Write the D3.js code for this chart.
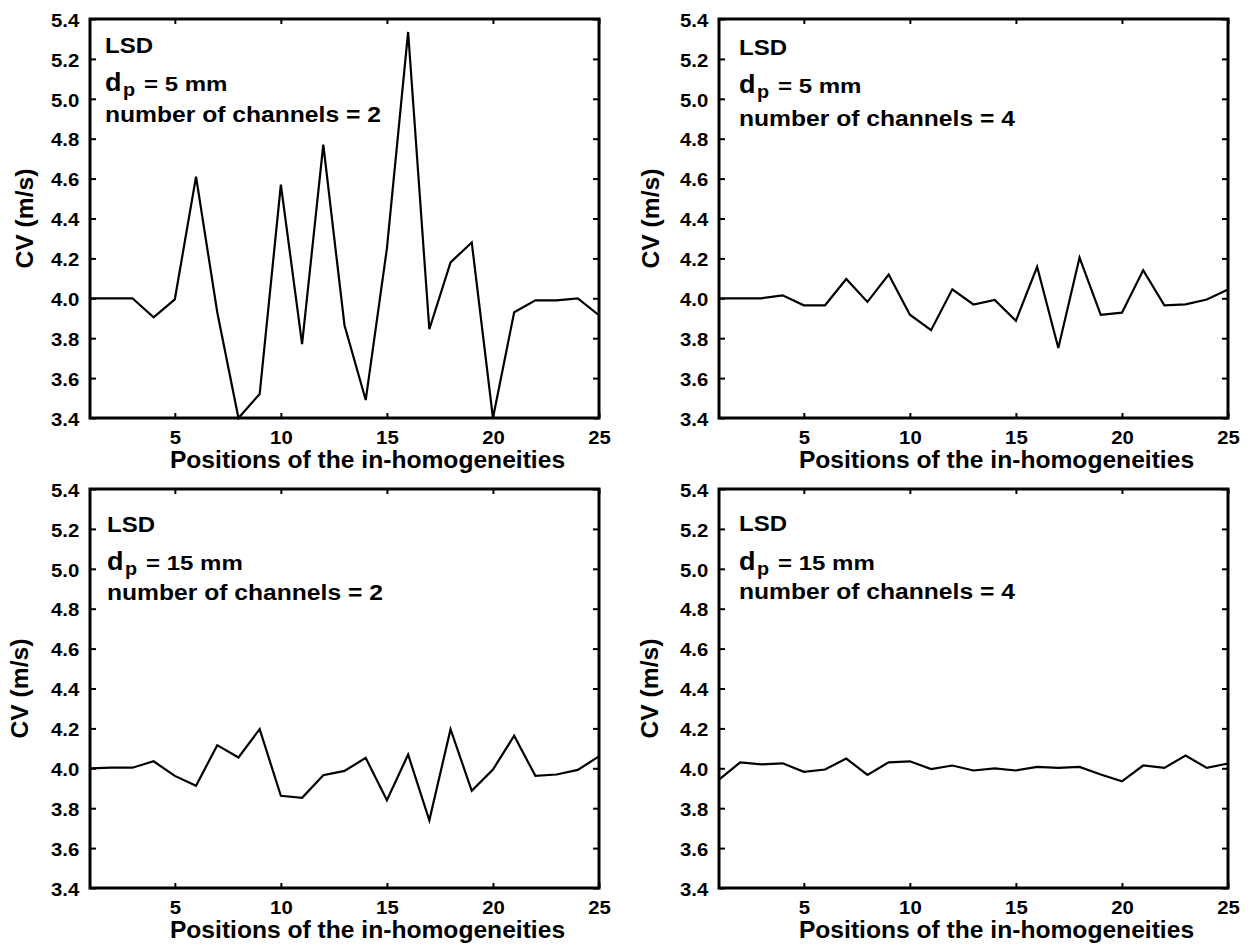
<!DOCTYPE html>
<html>
<head>
<meta charset="utf-8">
<script src="https://cdn.jsdelivr.net/npm/d3@7"></script>
<style>
  body { margin: 0; background: #fff; }
  svg text { font-family: "Liberation Sans", Arial, sans-serif; font-weight: bold; fill: #000; }
</style>
</head>
<body>
<div id="chart"></div>
<script>
// positions of the in-homogeneities (x)
var positions = [1, 2, 3, 4, 5, 6, 7, 8, 9, 10, 11, 12, 13, 14, 15, 16, 17, 18, 19, 20, 21, 22, 23, 24, 25];

// CV (m/s)
var cv_5mm_2ch  = [4.00, 4.00, 4.00, 3.905, 3.995, 4.61, 3.93, 3.40, 3.52, 4.57, 3.77, 4.77, 3.865, 3.49, 4.25, 5.335, 3.845, 4.18, 4.28, 3.40, 3.93, 3.99, 3.99, 4.00, 3.915];
var cv_5mm_4ch  = [4.00, 4.00, 4.00, 4.015, 3.965, 3.965, 4.097, 3.982, 4.119, 3.918, 3.84, 4.045, 3.969, 3.992, 3.887, 4.158, 3.751, 4.204, 3.917, 3.928, 4.141, 3.965, 3.97, 3.994, 4.044];
var cv_15mm_2ch = [4.00, 4.003, 4.003, 4.035, 3.962, 3.912, 4.116, 4.054, 4.196, 3.862, 3.852, 3.965, 3.987, 4.052, 3.84, 4.069, 3.739, 4.196, 3.887, 3.994, 4.163, 3.962, 3.969, 3.992, 4.06];
var cv_15mm_4ch = [3.943, 4.03, 4.02, 4.025, 3.982, 3.994, 4.049, 3.967, 4.03, 4.035, 3.996, 4.014, 3.989, 4.00, 3.989, 4.007, 4.002, 4.007, 3.969, 3.935, 4.014, 4.002, 4.064, 4.002, 4.024];

// tick values
var xTicks = [5, 10, 15, 20, 25];
var yTicks = [3.4, 3.6, 3.8, 4.0, 4.2, 4.4, 4.6, 4.8, 5.0, 5.2, 5.4];

var xLabel = "Positions of the in-homogeneities";
var yLabel = "CV (m/s)";

var panels = [
    {series: cv_5mm_2ch,  dp: "5",  ch: "2", left: 90,  top: 19,  ylab: 33,  ax: 105, lsd: 53,  dline: 91,  nline: 122},
    {series: cv_5mm_4ch,  dp: "5",  ch: "4", left: 719, top: 19,  ylab: 659, ax: 739, lsd: 55,  dline: 93,  nline: 126},
    {series: cv_15mm_2ch, dp: "15", ch: "2", left: 90,  top: 489, ylab: 28,  ax: 107, lsd: 532, dline: 570, nline: 600},
    {series: cv_15mm_4ch, dp: "15", ch: "4", left: 719, top: 489, ylab: 658, ax: 739, lsd: 531, dline: 570, nline: 599}
];

var width = 509, height = 399;

var svg = d3.select("#chart")
    .append("svg")
    .attr("width", 1251)
    .attr("height", 948);

// widen glyphs a bit, the original text is drawn wider than Arial
function stretch(sel, k) {
    sel.each(function() {
        var n = this.getComputedTextLength();
        d3.select(this).attr("textLength", n * k).attr("lengthAdjust", "spacingAndGlyphs");
    });
}

panels.forEach(function(p) {
    var x = d3.scaleLinear().domain([1, 25]).range([0, width]);
    var y = d3.scaleLinear().domain([3.4, 5.4]).range([height, 0]);

    var g = svg.append("g")
        .attr("transform", "translate(" + p.left + "," + p.top + ")");

    // bottom axis with labels, ticks inward
    var gx = g.append("g")
        .attr("transform", "translate(0," + height + ")")
        .call(d3.axisBottom(x).tickValues(xTicks).tickSize(-5).tickSizeOuter(0).tickPadding(13).tickFormat(d3.format("d")));
    // left axis with labels
    var gy = g.append("g")
        .call(d3.axisLeft(y).tickValues(yTicks).tickSize(-6).tickSizeOuter(0).tickPadding(10.7).tickFormat(d3.format(".1f")));
    // mirrored ticks on top and right
    var gt = g.append("g")
        .call(d3.axisTop(x).tickValues(xTicks).tickSize(-5).tickSizeOuter(0).tickFormat(""));
    var gr = g.append("g")
        .attr("transform", "translate(" + width + ",0)")
        .call(d3.axisRight(y).tickValues(yTicks).tickSize(-6).tickSizeOuter(0).tickFormat(""));

    [gx, gy, gt, gr].forEach(function(a) {
        a.select(".domain").remove();
        a.selectAll(".tick line").attr("stroke", "#000").attr("stroke-width", 2);
        a.selectAll("text").attr("font-size", 18).style("font-family", "'Liberation Sans', Arial, sans-serif").style("font-weight", "bold");
    });
    gy.selectAll(".tick text").attr("dy", "0.4em");
    stretch(gx.selectAll(".tick text"), 1.13);
    stretch(gy.selectAll(".tick text"), 1.13);

    // the line
    g.append("path")
        .datum(p.series)
        .attr("fill", "none")
        .attr("stroke", "#000")
        .attr("stroke-width", 2.2)
        .attr("d", d3.line().x(function(d, i) { return x(positions[i]); }).y(function(d) { return y(d); }));

    // box
    g.append("rect")
        .attr("width", width)
        .attr("height", height)
        .attr("fill", "none")
        .attr("stroke", "#000")
        .attr("stroke-width", 3);

    // axis titles
    var tx = g.append("text")
        .attr("x", width / 2 + 23)
        .attr("y", height + 50)
        .attr("text-anchor", "middle")
        .attr("font-size", 23)
        .text(xLabel);
    stretch(tx, 1.07);

    var ty = svg.append("text")
        .attr("transform", "translate(" + p.ylab + "," + (p.top + height / 2) + ") rotate(-90)")
        .attr("text-anchor", "middle")
        .attr("font-size", 23)
        .text(yLabel);
    stretch(ty, 1.07);

    // annotation
    var t1 = svg.append("text").attr("x", p.ax).attr("y", p.lsd).attr("font-size", 22).text("LSD");
    stretch(t1, 1.09);
    var t2 = svg.append("text").attr("x", p.ax).attr("y", p.dline).attr("font-size", 25).text("d");
    stretch(t2, 1.08);
    var t3 = svg.append("text").attr("x", p.ax + 18).attr("y", p.dline + 5).attr("font-size", 18).text("p");
    stretch(t3, 1.1);
    var t4 = svg.append("text").attr("x", p.ax + 39).attr("y", p.dline).attr("font-size", 20).text("= " + p.dp + " mm");
    stretch(t4, 1.2);
    var t5 = svg.append("text").attr("x", p.ax).attr("y", p.nline).attr("font-size", 22).text("number of channels = " + p.ch);
    stretch(t5, 1.12);
});
</script>
</body>
</html>
